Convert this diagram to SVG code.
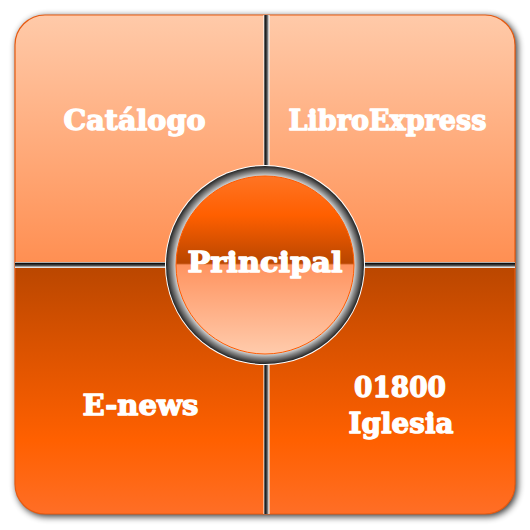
<svg xmlns="http://www.w3.org/2000/svg" width="530" height="530" viewBox="0 0 530 530">
  <defs>
    <filter id="shadow" x="-10%" y="-10%" width="120%" height="120%">
      <feGaussianBlur stdDeviation="3.5"/>
    </filter>
    <clipPath id="frame">
      <rect x="15" y="15" width="500" height="499" rx="30" ry="30"/>
    </clipPath>
    <linearGradient id="topGrad" x1="0" y1="15" x2="0" y2="263" gradientUnits="userSpaceOnUse">
      <stop offset="0" stop-color="#ffcaa9"/>
      <stop offset="1" stop-color="#ff8f52"/>
    </linearGradient>
    <linearGradient id="botGrad" x1="0" y1="268" x2="0" y2="514" gradientUnits="userSpaceOnUse">
      <stop offset="0" stop-color="#bb4700"/>
      <stop offset="0.7" stop-color="#ff6000"/>
      <stop offset="1" stop-color="#ff6e26"/>
    </linearGradient>
    <linearGradient id="hDiv" x1="0" y1="0" x2="0" y2="1">
      <stop offset="0" stop-color="#ffffff"/>
      <stop offset="0.25" stop-color="#111111"/>
      <stop offset="0.6" stop-color="#555555"/>
      <stop offset="0.8" stop-color="#bbbbbb"/>
      <stop offset="1" stop-color="#ffffff"/>
    </linearGradient>
    <linearGradient id="vDiv" x1="0" y1="0" x2="1" y2="0">
      <stop offset="0" stop-color="#ffffff"/>
      <stop offset="0.25" stop-color="#111111"/>
      <stop offset="0.6" stop-color="#555555"/>
      <stop offset="0.8" stop-color="#bbbbbb"/>
      <stop offset="1" stop-color="#ffffff"/>
    </linearGradient>
    <radialGradient id="ringGrad" cx="265" cy="265" r="99" gradientUnits="userSpaceOnUse">
      <stop offset="0.89" stop-color="#e8e8e8"/>
      <stop offset="0.94" stop-color="#8a8a8a"/>
      <stop offset="1" stop-color="#222222"/>
    </radialGradient>
    <linearGradient id="btnGrad" x1="0" y1="176" x2="0" y2="354" gradientUnits="userSpaceOnUse">
      <stop offset="0" stop-color="#ff7424"/>
      <stop offset="0.22" stop-color="#ff5f00"/>
      <stop offset="0.49" stop-color="#b84600"/>
      <stop offset="0.5" stop-color="#ff9460"/>
      <stop offset="1" stop-color="#ffcbac"/>
    </linearGradient>
  </defs>
  <style>
    .lbl { font-family: "DejaVu Serif", "Liberation Serif", serif; font-weight: bold; font-size: 28px; fill: #ffffff; stroke: #ffffff; stroke-width: 1.3px; stroke-linejoin: round; text-anchor: middle; }
  </style>

  <rect x="16.5" y="16.5" width="501" height="500" rx="30" ry="30" fill="#000000" opacity="0.8" filter="url(#shadow)"/>

  <g id="catalogo">
    <rect x="15" y="15" width="250" height="250" fill="url(#topGrad)" clip-path="url(#frame)"/>
    <text class="lbl" x="134.5" y="130" textLength="142" lengthAdjust="spacingAndGlyphs">Catálogo</text>
  </g>
  <g id="libroexpress">
    <rect x="265" y="15" width="250" height="250" fill="url(#topGrad)" clip-path="url(#frame)"/>
    <text class="lbl" x="387.5" y="130" textLength="198" lengthAdjust="spacingAndGlyphs">LibroExpress</text>
  </g>
  <g id="enews">
    <rect x="15" y="265" width="250" height="250" fill="url(#botGrad)" clip-path="url(#frame)"/>
    <text class="lbl" x="140.5" y="415" textLength="116" lengthAdjust="spacingAndGlyphs">E-news</text>
  </g>
  <g id="iglesia">
    <rect x="265" y="265" width="250" height="250" fill="url(#botGrad)" clip-path="url(#frame)"/>
    <text class="lbl" x="400" y="397" textLength="92" lengthAdjust="spacingAndGlyphs">01800</text>
    <text class="lbl" x="401" y="433" textLength="105" lengthAdjust="spacingAndGlyphs">Iglesia</text>
  </g>

  <rect x="15" y="15" width="500" height="499" rx="30" ry="30" fill="none" stroke="#e85a10" stroke-width="1.2"/>

  <g id="connectors">
    <rect x="15" y="262" width="500" height="6" fill="url(#hDiv)"/>
    <rect x="263.5" y="15" width="6" height="499" fill="url(#vDiv)"/>
  </g>

  <g id="principal">
    <circle cx="265" cy="265" r="100" fill="#ffffff"/>
    <circle cx="265" cy="265" r="99" fill="url(#ringGrad)"/>
    <circle cx="265" cy="265" r="89" fill="url(#btnGrad)" stroke="#ff5a00" stroke-width="1"/>
    <text class="lbl" x="265" y="272" textLength="155" lengthAdjust="spacingAndGlyphs">Principal</text>
  </g>
</svg>
